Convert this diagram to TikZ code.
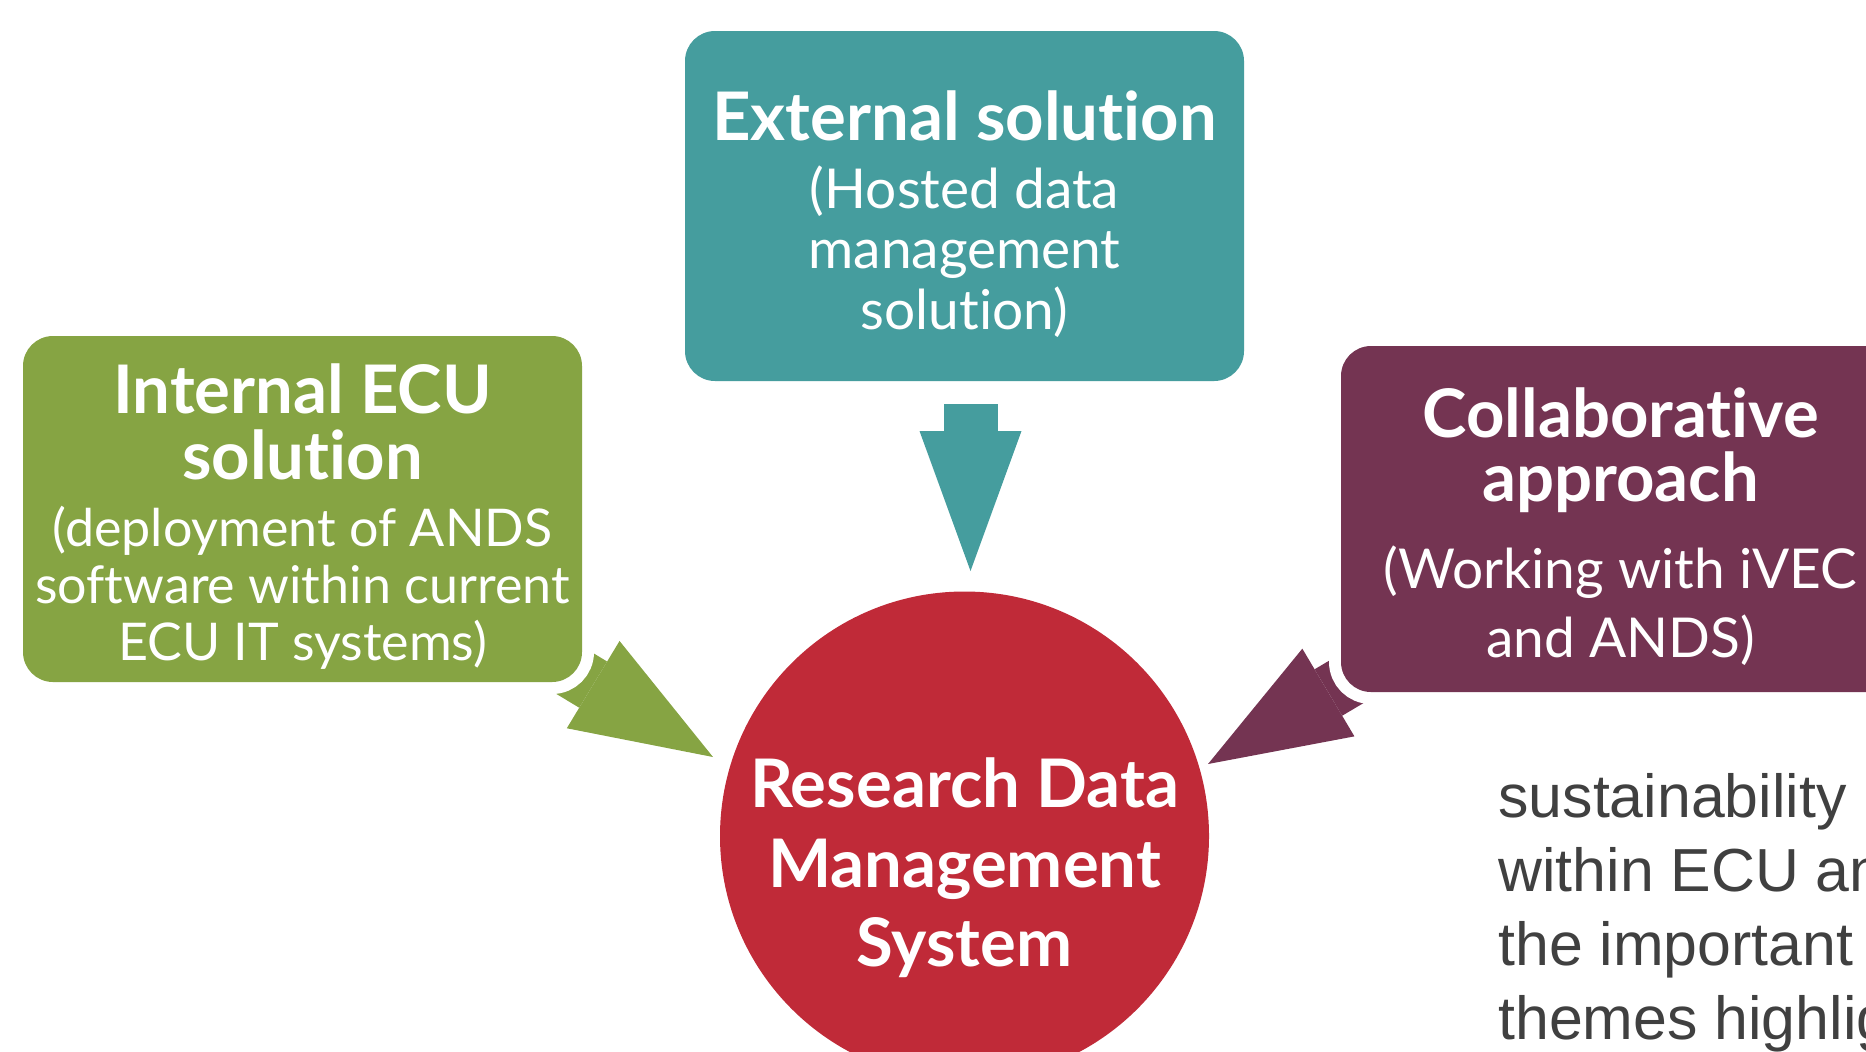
\documentclass[tikz,border=0pt]{standalone}
\usepackage{fontspec}
\setmainfont{Lato}[Ligatures=NoCommon]
\newfontfamily\slidefont{Liberation Sans}
\usetikzlibrary{
  arrows.meta,
  positioning,
  backgrounds
}
\usepackage{xcolor}
\definecolor{ecuTeal}{RGB}{69,157,158}
\definecolor{ecuGreen}{RGB}{134,164,67}
\definecolor{ecuPurple}{RGB}{116,52,82}
\definecolor{ecuRed}{RGB}{192,42,56}
\definecolor{slideGrey}{RGB}{64,64,64}
\newcommand{\headline}{\fontsize{33.5}{33.5}\bfseries\selectfont}
\tikzset{
  choice/.style={
    rounded corners=15pt,
    minimum width=279.5pt,
    minimum height=173pt,
    inner sep=0pt,
    preaction={draw=white, line width=12pt}
  },
  choicetext/.style={
    text=white,
    align=center,
    yshift=-3.75pt
  },
  hub/.style={
    circle,
    fill=ecuRed,
    inner sep=0pt,
    minimum size=244.5pt
  },
  feed/.style={
    line width=27pt,
    -{Triangle[length=70pt, width=51pt, line width=0pt]}
  }
}

\begin{document}
\begin{tikzpicture}[x=0.5pt, y=-0.5pt]
    \useasboundingbox (0,0) rectangle (1866,1051);
    \clip (0,0) rectangle (1866,1051);

    \node[choice, fill=ecuTeal, minimum height=175pt,
      label={[choicetext, yshift=-0.25pt,
        font=\fontsize{27.5}{30.25}\selectfont]
        center:{{\headline External solution}\\[3.75pt]
          (Hosted data\\management\\solution)}}]
      (external) at (964.5,206) {};

    \node[choice, fill=ecuGreen,
      label={[choicetext, font=\fontsize{26}{28.5}\selectfont]
        center:{{\headline Internal ECU}\\[4.5pt]{\headline solution}\\[5pt]
          (deployment of ANDS\\software within current\\ECU IT systems)}}]
      (internal) at (302.5,509) {};

    \node[choice, fill=ecuPurple,
      label={[choicetext, font=\fontsize{27.5}{34.5}\selectfont]
        center:{{\headline Collaborative}\\[-2.5pt]{\headline approach}\\[9pt]
          (Working with iVEC\\and ANDS)}}]
      (collab) at (1620.5,519) {};

    \node[hub,
      label={[text=white, align=center, yshift=-16pt,
        font=\fontsize{33.5}{39.75}\bfseries\selectfont]
        center:{Research Data\\Management\\System}}]
      (rdms) at (964.5,836) {};

    \coordinate (externaltip) at (970.5,571);
    \coordinate (internaltip) at (713,757);
    \coordinate (collabtip)   at (1208,764);

    \begin{scope}[on background layer]
      \draw[feed, ecuTeal]
      ([xshift=3pt, yshift=-11.5pt]external.south) -- (externaltip);
      \draw[feed, ecuGreen]  (internal.center) -- (internaltip);
      \draw[feed, ecuPurple] (collab.center) -- (collabtip);
    \end{scope}

    \node[anchor=north west, align=left, inner sep=0pt, text=slideGrey,
      font=\slidefont\fontsize{30.4}{37}\selectfont]
      (notes) at (1498,773.5)
      {sustainability\\within ECU and\\the important\\themes highlighted};
\end{tikzpicture}
\end{document}
